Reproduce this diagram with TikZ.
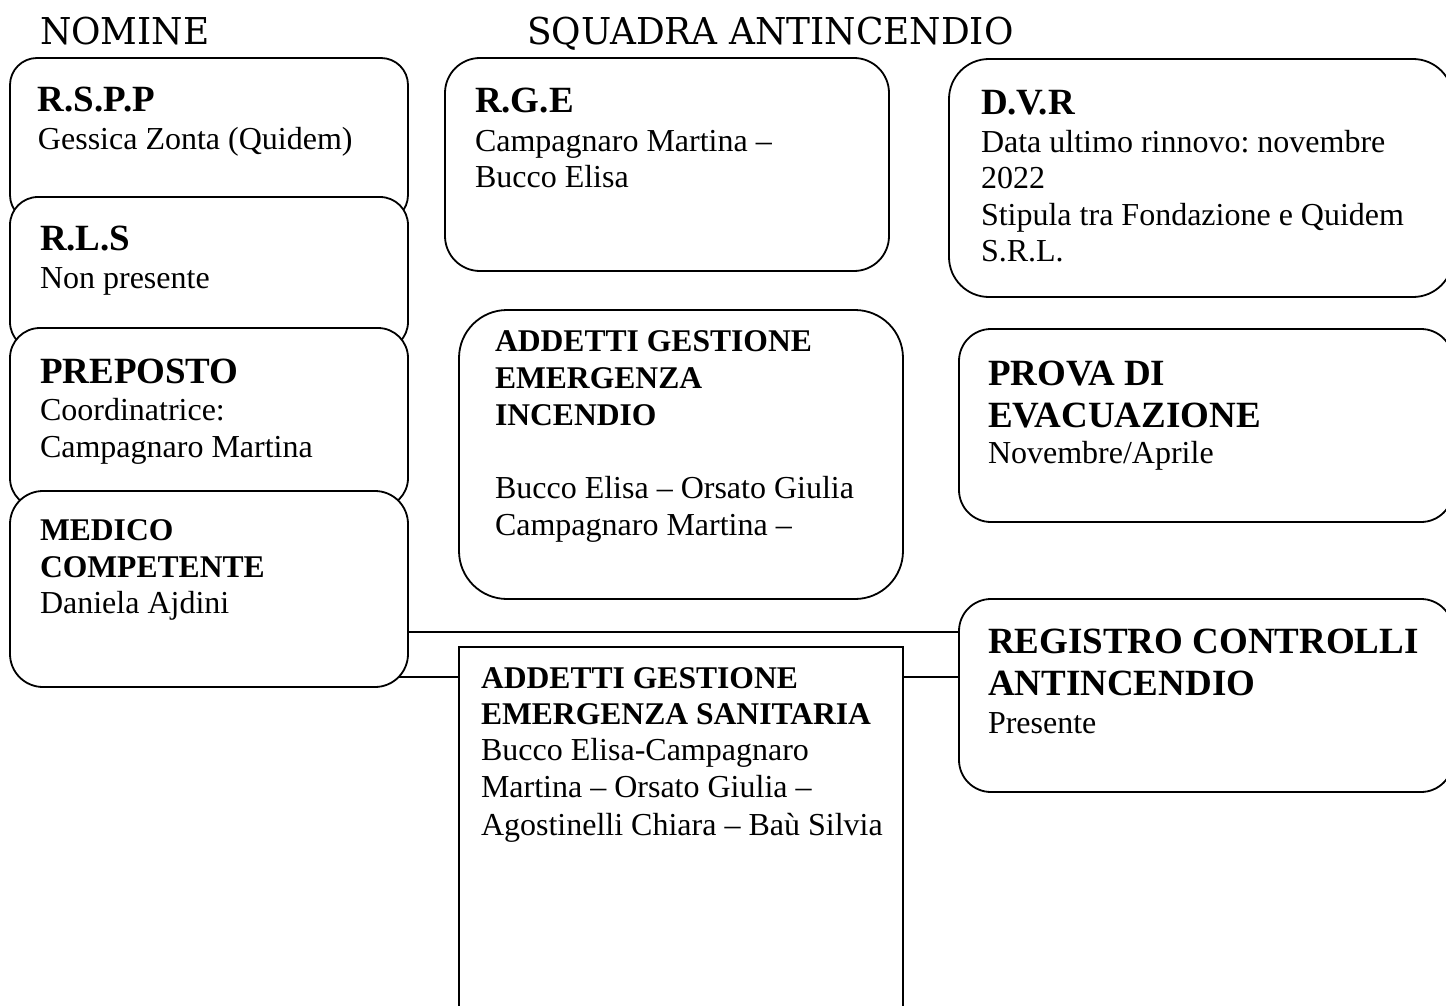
\documentclass[tikz,border=0pt]{standalone}
\usepackage{fontspec}
\usepackage{graphicx}
\setmainfont{Liberation Serif}
\newfontfamily\titlefont{DejaVu Serif}
\usetikzlibrary{backgrounds}
\frenchspacing

\newcommand{\hdA}{\fontsize{18.5pt}{21pt}\selectfont\bfseries}
\newcommand{\hdB}{\fontsize{15.8pt}{18.5pt}\selectfont\bfseries}
\newcommand{\bdy}{\fontsize{16pt}{18.25pt}\selectfont}
\newcommand{\Ln}[2]{\baselineskip=\dimexpr #1pt/2\relax\hbox{#2}}
\newcommand{\Blk}[1]{\vtop{\lineskiplimit=-100pt\lineskip=0pt #1}}

\begin{document}
\begin{tikzpicture}[x=0.5pt,y=-0.5pt,
  box/.style={draw=black, fill=white, line width=0.9pt, anchor=north west, inner sep=0pt, outer sep=0pt},
  txt/.style={anchor=base west, inner sep=0pt, outer sep=0pt},
  conn/.style={draw=black, line width=0.9pt}]
\useasboundingbox (0,0) rectangle (1446,1006);
\clip (0,0) rectangle (1446,1006);

% titles
\node[txt] (tnomine) at (40,45) {\titlefont\fontsize{18.5pt}{20pt}\selectfont\scalebox{0.97}[1]{NOMINE}};
\node[txt] (tsquadra) at (527,45) {\titlefont\fontsize{18.5pt}{20pt}\selectfont\scalebox{0.97}[1]{SQUADRA ANTINCENDIO}};

% left column
\node[box, rounded corners=13.5pt, minimum width=199pt, minimum height=82pt] (rspp) at (10,58) {};
\node[box, rounded corners=14pt, minimum width=199pt, minimum height=76.5pt] (rls) at (10,197) {};
\node[box, rounded corners=15pt, minimum width=199pt, minimum height=90pt] (prep) at (10,328) {};
\node[box, rounded corners=16.5pt, minimum width=199pt, minimum height=98pt] (medico) at (10,491) {};

% middle column
\node[box, rounded corners=17.5pt, minimum width=222pt, minimum height=106.5pt] (rge) at (445,58) {};
\node[box, rounded corners=24pt, minimum width=222pt, minimum height=144.5pt] (incendio) at (459,310) {};
\node[box, minimum width=222pt, minimum height=190pt] (sanitaria) at (459,647) {};

% right column
\node[box, rounded corners=20pt, minimum width=252pt, minimum height=119pt] (dvr) at (949,59) {};
\node[box, rounded corners=16pt, minimum width=247pt, minimum height=96.5pt] (prova) at (959,329) {};
\node[box, rounded corners=16pt, minimum width=247pt, minimum height=96.5pt] (registro) at (959,599) {};

% connectors (behind boxes)
\coordinate (yA) at (0,632);
\coordinate (yB) at (0,677);
\begin{pgfonlayer}{background}
\draw[conn] (medico.center |- yA) -- (registro.center |- yA);
\draw[conn] (medico.center |- yB) -- (sanitaria.west |- yB);
\draw[conn] (sanitaria.east |- yB) -- (registro.center |- yB);
\end{pgfonlayer}

% texts
\node[txt] (trspp) at (38,112) {\Blk{\Ln{0}{\hdA R.S.P.P}\Ln{38}{\bdy Gessica Zonta (Quidem)}}};
\node[txt] (trls) at (40,250) {\Blk{\Ln{0}{\hdA R.L.S}\Ln{38}{\bdy Non presente}}};
\node[txt] (tprep) at (40,383) {\Blk{\Ln{0}{\hdA PREPOSTO}\Ln{37}{\bdy Coordinatrice:}\Ln{37}{\bdy Campagnaro Martina}}};
\node[txt] (tmedico) at (40,540) {\Blk{\Ln{0}{\hdB MEDICO}\Ln{37}{\hdB COMPETENTE}\Ln{36}{\bdy Daniela Ajdini}}};

\node[txt] (trge) at (475,113) {\Blk{\Ln{0}{\hdA R.G.E}\Ln{39}{\bdy Campagnaro Martina –}\Ln{35}{\bdy Bucco Elisa}}};
\node[txt] (tincendio) at (495,351) {\Blk{\Ln{0}{\hdB ADDETTI GESTIONE}\Ln{37}{\hdB EMERGENZA}\Ln{37}{\hdB INCENDIO}\Ln{73}{\bdy Bucco Elisa – Orsato Giulia}\Ln{37}{\bdy Campagnaro Martina –}}};
\node[txt] (tsanitaria) at (481,688) {\Blk{\Ln{0}{\hdB ADDETTI GESTIONE}\Ln{36}{\hdB EMERGENZA SANITARIA}\Ln{36}{\bdy Bucco Elisa-Campagnaro}\Ln{37}{\bdy Martina – Orsato Giulia –}\Ln{38}{\bdy Agostinelli Chiara – Baù Silvia}}};

\node[txt] (tdvr) at (981,115) {\Blk{\Ln{0}{\hdA D.V.R}\Ln{38}{\bdy Data ultimo rinnovo: novembre}\Ln{35}{\bdy 2022}\Ln{37}{\bdy Stipula tra Fondazione e Quidem}\Ln{37}{\bdy S.R.L.}}};
\node[txt] (tprova) at (988,385) {\Blk{\Ln{0}{\hdA PROVA DI}\Ln{42}{\hdA EVACUAZIONE}\Ln{36}{\bdy Novembre/Aprile}}};
\node[txt] (tregistro) at (988,653) {\Blk{\Ln{0}{\hdA REGISTRO CONTROLLI}\Ln{42}{\hdA ANTINCENDIO}\Ln{38}{\bdy Presente}}};
\end{tikzpicture}
\end{document}
